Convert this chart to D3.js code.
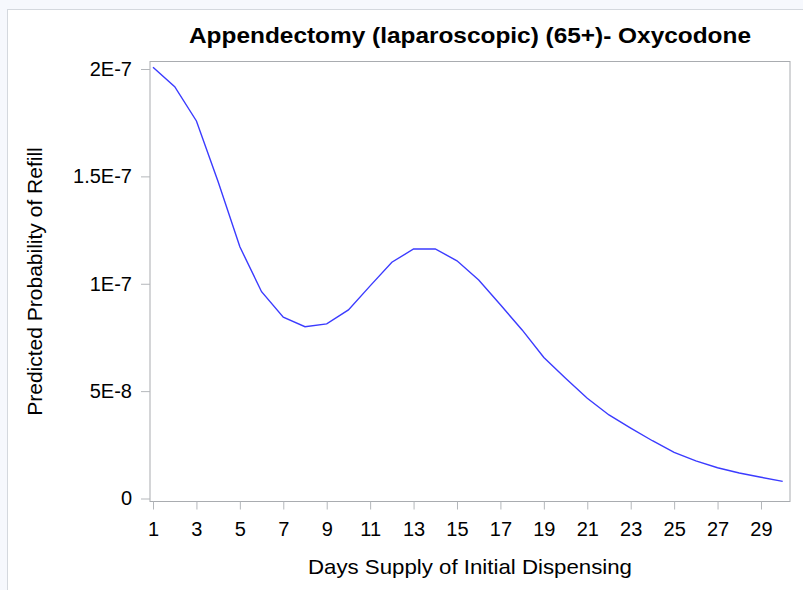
<!DOCTYPE html>
<html>
<head>
<meta charset="utf-8">
<script src="https://cdn.jsdelivr.net/npm/d3@7"></script>
<style>
  body { margin: 0; background: #f6f8fd; }
  svg { display: block; font-family: "Liberation Sans", Arial, sans-serif; }
</style>
</head>
<body>
<div id="chart"></div>
<script>
// data
const days = [1, 2, 3, 4, 5, 6, 7, 8, 9, 10, 11, 12, 13, 14, 15,
              16, 17, 18, 19, 20, 21, 22, 23, 24, 25, 26, 27, 28, 29, 30];
const refillProb = [2.008e-7, 1.918e-7, 1.758e-7, 1.475e-7, 1.172e-7, 0.963e-7, 0.844e-7, 0.800e-7, 0.813e-7, 0.878e-7,
                    0.990e-7, 1.100e-7, 1.162e-7, 1.162e-7, 1.107e-7, 1.017e-7, 0.902e-7, 0.785e-7, 0.657e-7, 0.560e-7,
                    0.467e-7, 0.389e-7, 0.328e-7, 0.269e-7, 0.215e-7, 0.175e-7, 0.143e-7, 0.119e-7, 0.099e-7, 0.080e-7];
const xTicks = [1, 3, 5, 7, 9, 11, 13, 15, 17, 19, 21, 23, 25, 27, 29];
const yTicks = [0, 5e-8, 1e-7, 1.5e-7, 2e-7];
const yTickLabels = ["0", "5E-8", "1E-7", "1.5E-7", "2E-7"];

const title = "Appendectomy (laparoscopic) (65+)- Oxycodone";
const xTitle = "Days Supply of Initial Dispensing";
const yTitle = "Predicted Probability of Refill";

const W = 803, H = 590;
const margin = {top: 61.5, right: 13, bottom: 88.5, left: 150},
      width = W - margin.left - margin.right,
      height = H - margin.top - margin.bottom;

const svg = d3.select("#chart")
  .append("svg")
    .attr("width", W)
    .attr("height", H);

// white panel
svg.append("rect")
  .attr("x", 7.5).attr("y", 9.5)
  .attr("width", W + 10).attr("height", H + 10)
  .attr("fill", "#fff")
  .attr("stroke", "#d4d8de");

svg.append("text")
  .attr("x", margin.left + width / 2)
  .attr("y", 43)
  .attr("text-anchor", "middle")
  .attr("font-size", "22px")
  .attr("font-weight", "bold")
  .attr("fill", "#000")
  .attr("textLength", 562)
  .attr("lengthAdjust", "spacingAndGlyphs")
  .text(title);

const g = svg.append("g")
  .attr("transform", `translate(${margin.left},${margin.top})`);

const x = d3.scaleLinear()
  .domain([1, 30])
  .range([3, 632.7]);

const y = d3.scaleLinear()
  .domain([0, 2e-7])
  .range([437, 7.5]);

// wall
g.append("rect")
  .attr("x", 0).attr("y", 0)
  .attr("width", width).attr("height", height)
  .attr("fill", "#fff")
  .attr("stroke", "#a9acb0");

// x axis
const xAxis = g.append("g")
  .attr("transform", `translate(0,${height})`)
  .call(d3.axisBottom(x).tickValues(xTicks).tickSize(8).tickPadding(12).tickFormat(d3.format("d")));
xAxis.selectAll("text").attr("font-size", "20px").attr("fill", "#000");

// y axis
const yAxis = g.append("g")
  .call(d3.axisLeft(y).tickValues(yTicks).tickSize(9).tickPadding(9)
    .tickFormat((d, i) => yTickLabels[i]));
yAxis.selectAll("text").attr("font-size", "20px").attr("fill", "#000");

g.selectAll(".domain").remove();
g.selectAll(".tick line").attr("stroke", "#b4b7bb");
svg.selectAll(".tick text").style("font-family", "'Liberation Sans', Arial, sans-serif");

// axis titles
svg.append("text")
  .attr("x", margin.left + width / 2)
  .attr("y", 574)
  .attr("text-anchor", "middle")
  .attr("font-size", "21px")
  .attr("fill", "#000")
  .attr("textLength", 324)
  .attr("lengthAdjust", "spacingAndGlyphs")
  .text(xTitle);

svg.append("text")
  .attr("transform", `translate(42,${margin.top + height / 2}) rotate(-90)`)
  .attr("text-anchor", "middle")
  .attr("font-size", "21px")
  .attr("fill", "#000")
  .text(yTitle);

// curve
g.append("path")
  .datum(days.map((d, i) => ({day: d, p: refillProb[i]})))
  .attr("fill", "none")
  .attr("stroke", "#3b3bff")
  .attr("stroke-width", 1.4)
  .attr("d", d3.line()
    .x(d => x(d.day))
    .y(d => y(d.p)));
</script>
</body>
</html>
